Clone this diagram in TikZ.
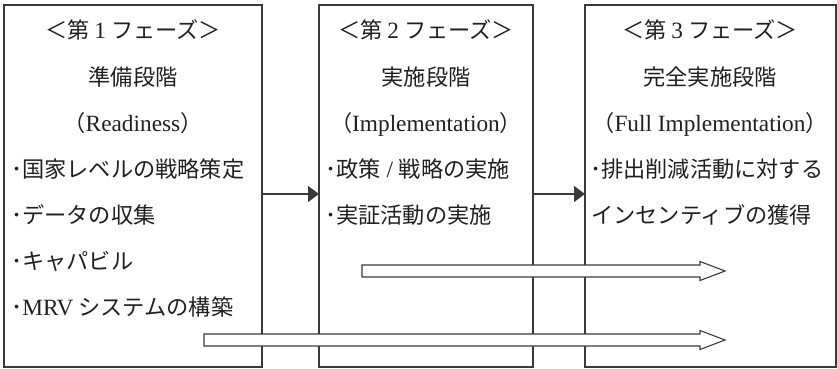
\documentclass[tikz,border=0pt]{standalone}
\usepackage{fontspec}
\setmainfont[Scale=1.05]{Liberation Serif}
\newfontfamily\jp{Noto Sans CJK JP}
\newcommand{\lat}[1]{{\rmfamily #1}}
\usetikzlibrary{arrows.meta}
\definecolor{linegray}{HTML}{3A3A3A}
\definecolor{textgray}{HTML}{231F20}
\begin{document}
\begin{tikzpicture}[x=1pt,y=-1pt,
  box/.style={draw=linegray, line width=1.2pt, rectangle, inner sep=0pt, outer sep=0pt, anchor=north west},
  txt/.style={text=textgray, inner sep=0pt, font=\fontsize{22.2}{26}\selectfont\jp, text height=16pt, text depth=4pt},
  ctr/.style={txt, anchor=center},
  lft/.style={txt, anchor=west},
  flow/.style={draw=linegray, line width=1.2pt, -{Triangle[length=11pt,width=16pt]}},
  hollow/.style={draw=linegray, line width=1.1pt, fill=white, line join=miter}
]
\useasboundingbox (0,0) rectangle (837,369);
% boxes
\node[box, minimum width=258pt, minimum height=362pt] (box1) at (4,5) {};
\node[box, minimum width=214pt, minimum height=362pt] (box2) at (319,5) {};
\node[box, minimum width=251pt, minimum height=362pt] (box3) at (585,5) {};
% connectors between phases
\coordinate (ay) at (0,194);
\draw[flow] (box1.east |- ay) -- (box2.west |- ay);
\draw[flow] (box2.east |- ay) -- (box3.west |- ay);
% hollow arrows
\draw[hollow] (362,265) -- (700,265) -- (700,261.5) -- (725,271) -- (700,280.5) -- (700,277) -- (362,277) -- cycle;
\draw[hollow] (204,334) -- (700,334) -- (700,330.5) -- (725,340) -- (700,349.5) -- (700,346) -- (204,346) -- cycle;
% phase 1
\node[ctr] (p1h) at (133,33) {＜第 \lat{1} フェーズ＞};
\node[ctr] (p1t) at (133,79) {準備段階};
\node[ctr] (p1e) at (133,125) {（\lat{Readiness}）};
\node[lft] (p1a) at (11,171) {･国家レベルの戦略策定};
\node[lft] (p1b) at (11,217) {･データの収集};
\node[lft] (p1c) at (11,263) {･キャパビル};
\node[lft] (p1d) at (11,309) {･\lat{MRV} システムの構築};
% phase 2
\node[ctr] (p2h) at (426,33) {＜第 \lat{2} フェーズ＞};
\node[ctr] (p2t) at (426,79) {実施段階};
\node[ctr] (p2e) at (426,125) {（\lat{Implementation}）};
\node[lft] (p2a) at (325,171) {･政策\lat{ / }戦略の実施};
\node[lft] (p2b) at (325,217) {･実証活動の実施};
% phase 3
\node[ctr] (p3h) at (710,33) {＜第 \lat{3} フェーズ＞};
\node[ctr] (p3t) at (710,79) {完全実施段階};
\node[ctr] (p3e) at (710,125) {（\lat{Full Implementation}）};
\node[lft] (p3a) at (590,171) {･排出削減活動に対する};
\node[lft] (p3b) at (591,217) {インセンティブの獲得};
\end{tikzpicture}
\end{document}
